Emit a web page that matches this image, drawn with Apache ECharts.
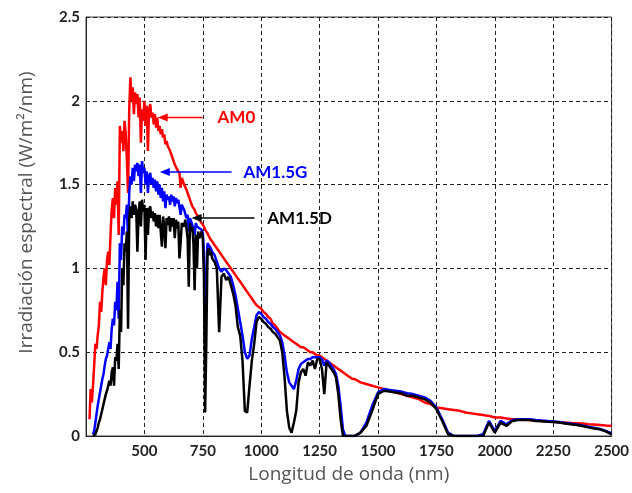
<!DOCTYPE html>
<html>
<head>
<meta charset="utf-8">
<script src="https://cdn.jsdelivr.net/npm/echarts@6/dist/echarts.min.js"></script>
<style>
  html, body { margin: 0; padding: 0; background: #fff; }
  #spectrumChart { width: 632px; height: 493px; }
</style>
</head>
<body>
<div id="spectrumChart"></div>
<script>
// longitudes de onda (nm)
const wavelength = [
  265,270,275,280,285,290,295,300,305,310,
  315,320,325,330,335,340,345,350,355,360,
  365,370,375,380,385,390,395,400,405,410,
  415,420,425,430,435,440,445,450,455,460,
  465,470,475,480,485,490,495,500,505,510,
  515,520,525,530,535,540,545,550,555,560,
  565,570,575,580,585,590,595,600,605,610,
  615,620,625,630,635,640,645,650,655,660,
  665,670,675,680,685,690,695,700,705,710,
  715,720,725,730,735,740,745,750,755,760,
  765,770,775,780,785,790,795,800,
  810,820,830,840,850,860,870,880,890,900,
  910,920,930,940,950,960,970,980,990,1000,
  1010,1020,1030,1040,1050,1060,1070,1080,1090,1100,
  1110,1120,1130,1140,1150,1160,1170,1180,1190,1200,
  1210,1220,1230,1240,1250,1260,1270,1280,1290,1300,
  1310,1320,1330,1340,1350,1360,1370,1380,1390,1400,
  1425,1450,1475,1500,1525,1550,1575,1600,1625,1650,
  1675,1700,1725,1750,1775,1800,1825,1850,1875,1900,
  1925,1950,1975,2000,2025,2050,2075,2100,2125,2150,
  2175,2200,2225,2250,2275,2300,2325,2350,2375,2400,
  2425,2450,2475,2500
];

// AM0 (W/m2/nm)
const am0 = [
  0.10,0.28,0.20,0.30,0.42,0.55,0.52,0.60,0.66,0.80,
  0.74,0.86,0.95,1.00,0.90,1.05,1.10,1.02,1.20,1.35,
  1.42,1.30,1.48,1.38,1.52,1.20,1.85,1.75,1.82,1.70,
  1.88,1.80,1.65,1.45,1.95,2.14,2.00,2.08,1.92,2.05,
  1.98,2.04,1.90,2.02,1.75,1.95,1.88,2.00,1.85,1.97,
  1.70,1.95,1.98,1.90,1.93,1.86,1.92,1.84,1.90,1.82,
  1.85,1.80,1.83,1.78,1.80,1.74,1.76,1.73,1.74,1.70,
  1.68,1.66,1.65,1.62,1.62,1.59,1.59,1.57,1.48,1.54,
  1.52,1.50,1.49,1.47,1.45,1.43,1.41,1.39,1.37,1.36,
  1.35,1.33,1.32,1.31,1.29,1.28,1.27,1.26,1.25,1.23,
  1.22,1.21,1.20,1.18,1.17,1.16,1.15,1.14,
  1.12,1.10,1.08,1.06,1.04,1.02,1.00,0.98,0.96,0.94,
  0.92,0.90,0.88,0.86,0.84,0.82,0.80,0.78,0.77,0.76,
  0.74,0.73,0.71,0.70,0.67,0.66,0.64,0.62,0.61,0.60,
  0.59,0.58,0.57,0.56,0.55,0.54,0.53,0.53,0.52,0.51,
  0.50,0.50,0.49,0.48,0.48,0.47,0.46,0.45,0.44,0.43,
  0.42,0.41,0.40,0.39,0.38,0.37,0.36,0.35,0.34,0.34,
  0.32,0.31,0.30,0.29,0.28,0.27,0.26,0.25,0.24,0.23,
  0.22,0.20,0.19,0.17,0.165,0.16,0.155,0.15,0.14,0.135,
  0.13,0.125,0.12,0.11,0.11,0.105,0.10,0.10,0.097,0.095,
  0.092,0.09,0.087,0.085,0.082,0.08,0.078,0.076,0.074,0.07,
  0.068,0.065,0.062,0.06
];

// AM1.5G
const am15g = [
  null,null,null,0.01,0.03,0.08,0.13,0.18,0.22,0.26,
  0.30,0.34,0.37,0.42,0.46,0.48,0.52,0.56,0.52,0.64,
  0.70,0.66,0.80,0.75,0.92,0.70,1.15,1.05,1.25,1.20,
  1.32,1.30,1.38,1.15,1.45,1.55,1.50,1.60,1.52,1.62,
  1.58,1.63,1.55,1.62,1.45,1.64,1.57,1.60,1.50,1.58,
  1.45,1.55,1.57,1.50,1.54,1.48,1.53,1.46,1.52,1.44,
  1.50,1.42,1.48,1.40,1.46,1.36,1.44,1.41,1.43,1.38,
  1.44,1.40,1.43,1.37,1.42,1.39,1.41,1.40,1.32,1.38,
  1.37,1.35,1.36,1.30,1.32,1.22,1.30,1.28,1.26,1.27,
  1.20,1.27,1.25,1.26,1.24,1.24,1.23,1.21,1.10,0.55,
  0.90,1.15,1.16,1.13,1.13,1.10,1.10,1.08,
  1.04,1.00,0.98,1.00,0.99,0.97,0.95,0.90,0.84,0.76,
  0.68,0.60,0.50,0.46,0.48,0.58,0.65,0.72,0.74,0.73,
  0.71,0.70,0.68,0.67,0.65,0.64,0.62,0.60,0.56,0.48,
  0.38,0.32,0.30,0.28,0.33,0.40,0.43,0.44,0.45,0.46,
  0.46,0.47,0.47,0.47,0.47,0.46,0.42,0.45,0.44,0.42,
  0.40,0.37,0.30,0.18,0.04,0.00,0.00,0.00,0.00,0.00,
  0.02,0.08,0.18,0.26,0.28,0.275,0.27,0.265,0.255,0.25,
  0.24,0.23,0.21,0.17,0.10,0.02,0.00,0.00,0.00,0.00,
  0.00,0.01,0.09,0.03,0.09,0.07,0.095,0.10,0.10,0.10,
  0.095,0.092,0.09,0.087,0.083,0.078,0.073,0.068,0.063,0.055,
  0.05,0.042,0.03,0.015
];

// AM1.5D
const am15d = [
  null,null,null,0.00,0.00,0.01,0.03,0.05,0.08,0.10,
  0.13,0.16,0.19,0.22,0.25,0.27,0.30,0.33,0.30,0.38,
  0.41,0.30,0.47,0.45,0.55,0.40,0.75,0.62,1.00,0.90,
  1.15,1.10,1.22,0.64,1.30,1.37,1.30,1.40,1.32,1.38,
  1.35,1.10,1.33,1.40,1.25,1.41,1.34,1.38,1.05,1.36,
  1.20,1.35,1.37,1.30,1.34,1.28,1.33,1.25,1.32,1.24,
  1.32,1.22,1.13,1.31,1.25,1.12,1.30,1.26,1.31,1.22,
  1.30,1.25,1.30,1.18,1.29,1.24,1.28,1.06,1.15,1.27,
  1.28,1.25,1.29,1.24,1.18,0.89,1.27,1.22,1.25,1.15,
  0.87,1.20,1.00,1.22,1.18,1.20,1.22,1.18,0.95,0.14,
  0.55,1.10,1.12,1.08,1.10,1.06,1.07,1.04,
  1.00,0.62,0.95,0.97,0.93,0.95,0.90,0.85,0.78,0.65,
  0.60,0.45,0.15,0.14,0.30,0.45,0.55,0.68,0.71,0.70,
  0.68,0.67,0.65,0.64,0.62,0.61,0.59,0.57,0.50,0.35,
  0.15,0.05,0.02,0.08,0.15,0.32,0.38,0.40,0.36,0.44,
  0.42,0.45,0.40,0.46,0.46,0.40,0.25,0.44,0.42,0.40,
  0.38,0.35,0.25,0.10,0.00,0.00,0.00,0.00,0.00,0.00,
  0.02,0.06,0.15,0.25,0.27,0.265,0.26,0.255,0.24,0.24,
  0.23,0.22,0.20,0.16,0.09,0.01,0.00,0.00,0.00,0.00,
  0.00,0.00,0.08,0.02,0.08,0.06,0.09,0.095,0.095,0.095,
  0.09,0.088,0.085,0.083,0.08,0.075,0.07,0.065,0.06,0.052,
  0.045,0.04,0.028,0.01
];

// anotaciones (coordenadas de datos)
const annoLabels = ["AM0", "AM1.5G", "AM1.5D"];
const annoColors = ["#ff0000", "#0000ff", "#000000"];
const annoY = [1.90, 1.575, 1.30];
const annoFrom = [749, 873, 971];
const annoTo = [557, 566, 702];
const annoTextX = [813, 924, 1026];

const chartDom = document.getElementById("spectrumChart");
const chart = echarts.init(chartDom);

const pairs = (vals) => wavelength.map((w, i) => [w, vals[i]]);

const tickFont = { fontFamily: "Lato", fontWeight: "bold", fontSize: 15, color: "#222" };
const dashed = { show: true, lineStyle: { color: "#222", width: 1, type: [4, 3] } };

chart.setOption({
  animation: false,
  grid: {
    left: 86, right: 18, top: 17, bottom: 57,
    show: true, borderColor: "#444", borderWidth: 1
  },
  xAxis: {
    type: "value",
    min: 250, max: 2500, interval: 250,
    name: "Longitud de onda (nm)",
    nameLocation: "middle",
    nameGap: 29,
    nameTextStyle: { fontFamily: "Open Sans", fontSize: 19, color: "#555" },
    axisLine: { show: true, lineStyle: { color: "#222" } },
    axisTick: { show: false },
    axisLabel: Object.assign({ margin: 8, formatter: (v) => (v === 250 ? "" : String(v)) }, tickFont),
    splitLine: dashed
  },
  yAxis: {
    type: "value",
    min: 0, max: 2.5, interval: 0.5,
    name: "Irradiación espectral (W/m²/nm)",
    nameLocation: "middle",
    nameGap: 50,
    nameTextStyle: { fontFamily: "Open Sans", fontSize: 19, color: "#555", padding: [0, 0, 0, 28] },
    axisLine: { show: true, lineStyle: { color: "#222" } },
    axisTick: { show: false },
    axisLabel: Object.assign({ margin: 6 }, tickFont),
    splitLine: dashed
  },
  series: [
    { name: "AM0", type: "line", data: pairs(am0), showSymbol: false, symbol: "none",
      lineStyle: { color: "#ff0000", width: 2.5 }, z: 2 },
    { name: "AM1.5G", type: "line", data: pairs(am15g), showSymbol: false, symbol: "none",
      lineStyle: { color: "#0000ff", width: 2.5 }, z: 3 },
    { name: "AM1.5D", type: "line", data: pairs(am15d), showSymbol: false, symbol: "none",
      lineStyle: { color: "#000000", width: 2.5 }, z: 4 }
  ]
});

// flechas y etiquetas
const graphics = [];
annoLabels.forEach((label, i) => {
  const p0 = chart.convertToPixel({ gridIndex: 0 }, [annoFrom[i], annoY[i]]);
  const p1 = chart.convertToPixel({ gridIndex: 0 }, [annoTo[i], annoY[i]]);
  const pt = chart.convertToPixel({ gridIndex: 0 }, [annoTextX[i], annoY[i]]);
  const c = annoColors[i];
  graphics.push({
    type: "line", z: 10,
    shape: { x1: p0[0], y1: p0[1], x2: p1[0] + 6, y2: p1[1] },
    style: { stroke: c, lineWidth: 1.5 }
  });
  graphics.push({
    type: "polygon", z: 10,
    shape: { points: [[p1[0], p1[1]], [p1[0] + 10, p1[1] - 4], [p1[0] + 10, p1[1] + 4]] },
    style: { fill: c }
  });
  graphics.push({
    type: "text", z: 10,
    x: pt[0], y: pt[1],
    style: {
      text: label, fill: c,
      font: "bold 17px Lato",
      textAlign: "left", textVerticalAlign: "middle"
    }
  });
});
chart.setOption({ graphic: graphics });
</script>
</body>
</html>
